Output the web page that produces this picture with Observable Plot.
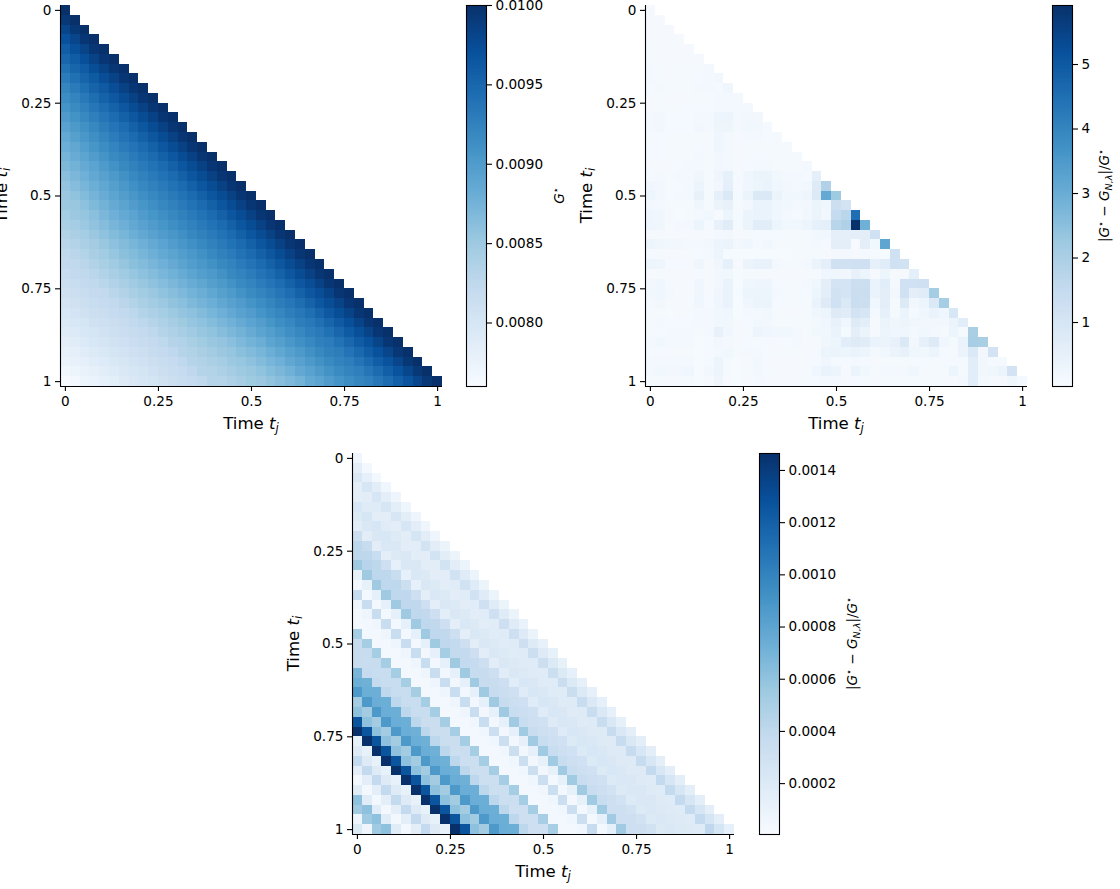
<!DOCTYPE html>
<html>
<head>
<meta charset="utf-8">
<script src="https://cdn.jsdelivr.net/npm/d3@7"></script>
<script src="https://cdn.jsdelivr.net/npm/@observablehq/plot@0.6"></script>
<style>
html,body{margin:0;padding:0;background:#fff;}
#page{position:relative;width:1120px;height:889px;overflow:hidden;background:#fff;}
svg{overflow:visible;}
</style>
</head>
<body>
<div id="page"></div>
<script>
// Time grid
const gridSize = 39;
const timeTicks = [0, 0.25, 0.5, 0.75, 1];

// Panel 1: G* in units of 1e-5, one list per sub-diagonal (d = i - j), from j = 0
const gStarDiagonals = [
[1000,1000,1000,1000,1000,1000,1000,1000,1000,1000,1000,1000,1000,1000,1000,1000,1000,1000,1000,1000,1000,1000,1000,1000,1000,1000,1000,1000,1000,1000,1000,1000,1000,1000,1000,1000,1000,1000,1000],
[993,994,995,995,995,995,995,995,995,995,995,995,995,995,995,995,995,995,995,995,995,995,995,995,995,995,995,995,995,995,995,995,995,995,994,994,993,993],
[980,981,982,983,983,983,984,984,984,984,984,984,984,984,984,984,984,984,984,984,984,984,984,984,984,984,984,983,983,983,983,982,982,981,981,980,980],
[970,971,972,973,974,974,975,975,975,975,975,975,975,975,975,975,975,975,975,975,975,975,975,975,975,974,974,973,973,972,971,970,970,969,969,968],
[958,959,960,961,962,963,964,964,964,964,964,964,965,965,965,965,965,965,965,965,965,964,964,964,964,964,964,963,962,961,960,959,958,957,956],
[950,951,952,953,954,954,955,955,955,955,955,955,955,955,955,955,955,955,955,955,955,955,954,954,954,953,952,951,950,949,948,947,946,945],
[940,941,942,943,944,945,945,946,946,946,946,946,946,946,946,946,946,946,946,946,946,945,944,944,943,942,941,940,939,938,937,936,935],
[930,931,933,935,936,937,938,938,939,939,939,939,939,939,939,939,939,939,939,938,938,937,936,935,934,933,932,930,929,928,927,926],
[922,923,925,927,929,930,931,931,932,932,932,932,932,932,932,932,932,931,931,930,930,929,929,928,928,927,926,925,924,923,922],
[915,916,918,920,922,923,924,925,925,925,925,925,925,925,925,925,925,924,924,923,923,922,921,920,920,919,918,917,916,915],
[908,909,911,913,915,917,918,919,920,920,920,920,920,920,919,919,918,918,917,916,915,915,914,913,912,911,910,909,908],
[900,902,904,906,908,910,911,912,913,913,913,913,912,912,911,911,910,910,909,908,907,906,905,904,903,902,901,900],
[893,895,897,899,901,903,904,905,906,906,906,905,905,904,904,903,902,901,900,899,898,897,896,895,894,893,892],
[885,887,890,892,894,896,898,899,900,900,900,899,898,898,897,896,895,894,893,892,891,890,888,887,886,885],
[880,882,884,886,888,890,891,892,893,893,892,891,891,890,889,888,887,886,884,883,881,880,878,877,875],
[874,876,878,880,882,884,885,886,886,885,885,884,883,882,881,880,879,877,876,875,873,872,870,869],
[868,870,872,874,876,878,879,880,879,879,878,877,876,875,874,873,871,870,869,867,866,865,863],
[862,864,866,868,870,872,873,873,873,872,871,870,869,868,866,865,864,862,861,860,858,857],
[856,858,860,862,864,866,866,866,866,865,864,863,862,860,859,858,856,855,854,853,852],
[852,853,855,857,859,860,861,861,860,859,858,857,856,855,854,853,852,851,850,849],
[851,851,851,852,853,854,855,854,853,852,851,850,849,848,847,846,845,844,844],
[845,845,845,846,847,848,848,848,847,846,845,844,843,842,841,840,839,838],
[840,840,840,841,842,842,842,841,840,839,838,837,836,835,835,834,833],
[834,834,834,835,836,836,835,834,834,833,833,832,832,832,832,832],
[828,828,828,829,829,829,828,827,827,826,826,825,825,825,824],
[824,824,824,824,823,823,822,822,821,821,821,820,820,820],
[822,822,821,821,820,820,819,819,818,818,817,817,816],
[817,817,816,816,815,815,814,814,813,813,812,812],
[813,813,812,812,811,811,810,810,809,809,808],
[808,808,807,807,806,806,805,805,804,804],
[803,803,802,802,801,801,800,800,799],
[798,798,797,797,796,796,795,795],
[794,793,793,792,791,791,790],
[789,788,787,787,786,785],
[784,783,782,781,780],
[779,778,777,776],
[774,773,772],
[768,766],
[760]
];

// Panel 2: relative error in units of 0.01, one list per row i, from j = 0
const relErrorRows = [
[8],
[8,8],
[8,8,8],
[8,8,8,8],
[10,8,8,8,8],
[10,8,8,8,8,8],
[14,10,8,10,10,10,14],
[14,10,8,10,10,12,14,20],
[12,14,10,10,10,14,14,12,24],
[8,10,8,8,10,10,10,14,14,14],
[8,10,10,10,12,12,12,14,16,16,16],
[16,18,12,12,12,14,14,30,30,14,18,18],
[14,18,12,12,12,18,14,26,26,14,20,20,12],
[10,12,10,10,10,10,10,22,16,8,14,14,12,10],
[12,12,10,10,10,12,10,22,14,8,10,10,10,10,10],
[12,12,10,10,10,14,10,18,14,8,10,12,10,10,10,10],
[8,8,8,12,14,14,10,18,14,8,12,14,14,10,10,10,14],
[12,16,10,14,14,24,10,28,50,10,22,36,36,20,14,14,12,55],
[22,18,10,12,14,30,10,18,55,8,22,30,40,22,18,16,20,75,190],
[30,18,12,14,14,45,10,50,85,10,35,85,85,35,20,20,28,80,310,220],
[18,16,10,10,10,25,10,35,45,10,18,40,40,22,20,14,18,35,25,130,110],
[28,24,8,6,10,16,20,5,30,12,35,40,40,22,16,12,20,35,18,150,170,450],
[28,24,8,14,14,30,12,45,70,10,35,65,65,30,20,20,30,50,55,175,190,590,290],
[8,8,8,8,8,8,8,16,18,8,10,12,12,12,10,10,10,20,20,55,55,60,60,120],
[30,25,20,18,15,15,18,30,35,18,22,12,20,10,10,10,10,16,12,60,60,5,60,20,320],
[12,10,8,8,10,12,14,32,6,6,6,6,6,6,6,10,10,10,8,14,14,8,12,10,6,120],
[30,28,12,12,8,24,8,25,50,8,35,42,42,14,10,10,14,35,55,120,120,125,125,50,70,120,115],
[8,10,8,8,8,12,8,20,20,6,10,10,8,8,8,8,8,12,22,24,18,45,30,8,30,8,8,55],
[18,22,12,8,8,22,8,20,40,6,25,28,28,12,10,10,15,25,60,105,105,130,130,38,65,10,120,120,125],
[20,22,14,8,8,24,8,22,40,6,30,32,30,14,10,10,12,30,60,115,105,135,135,38,60,18,120,60,70,210],
[14,18,8,8,10,22,12,22,40,6,22,35,35,12,10,10,10,40,75,120,85,135,130,22,60,10,80,18,32,85,210],
[10,10,6,8,10,14,14,20,22,6,14,16,20,10,8,8,10,25,32,75,70,110,100,16,50,10,35,12,22,40,22,95],
[10,16,12,12,12,14,14,20,20,8,12,20,18,10,10,10,10,15,22,45,22,75,60,8,35,25,30,25,18,18,18,35,65],
[10,12,16,16,16,10,14,45,22,8,10,30,22,20,20,16,10,20,20,40,10,60,35,8,32,22,25,15,20,15,10,30,10,200],
[16,20,16,16,16,6,12,18,14,8,12,10,12,8,12,16,8,8,25,30,65,75,70,40,35,45,85,18,50,75,22,10,40,205,200],
[10,12,8,8,10,6,12,16,20,10,14,14,10,10,10,10,8,12,30,35,30,40,30,15,20,35,45,25,20,30,12,10,35,85,18,110],
[14,14,14,14,14,6,12,30,10,6,8,20,8,8,8,8,8,12,22,10,12,14,12,8,10,10,10,12,12,10,12,10,12,65,18,12,10],
[16,20,18,18,22,6,18,30,10,6,10,18,10,8,8,8,10,22,40,30,8,35,20,10,15,15,14,25,10,10,10,30,10,65,20,25,35,110],
[10,10,8,8,10,6,8,28,8,6,8,14,8,8,8,8,10,12,15,15,8,12,10,8,10,10,10,10,10,10,10,8,14,65,15,10,8,25,12]
];

// Panel 3: relative error in units of 1e-5, one list per sub-diagonal (d = i - j), from j = 0
const lambdaErrorDiagonals = [
[6,4,4,6,7,7,7,7,7,9,9,9,9,9,9,9,9,10,9,12,12,12,13,13,13,13,13,13,15,15,15,15,15,15,15,15,15,15,13],
[15,13,16,15,15,16,16,16,16,16,16,18,18,18,18,18,18,19,19,19,20,20,20,20,21,21,22,22,22,23,23,23,24,24,25,25,26,26],
[22,25,25,25,25,25,26,28,28,28,29,29,29,31,31,32,32,32,33,33,33,34,34,35,35,35,36,36,36,36,38,38,38,38,38,38,40],
[15,16,18,16,16,16,16,16,16,16,17,17,17,17,17,18,18,18,18,18,18,18,19,19,19,19,19,19,19,19,18,18,18,18,18,18],
[15,18,16,18,19,16,16,16,16,16,16,16,16,16,17,17,17,18,18,18,18,18,18,18,19,19,19,19,19,19,19,19,19,19,19],
[23,25,25,23,22,22,22,20,20,20,20,20,20,20,20,20,20,20,22,22,22,22,22,22,22,22,22,22,22,22,22,20,20,20],
[20,22,22,22,20,22,22,22,22,22,22,22,22,22,22,22,22,23,23,23,23,23,23,23,23,23,23,22,22,22,22,22,22],
[16,16,16,15,13,13,13,15,15,15,15,15,16,16,16,17,17,18,18,18,19,19,20,20,20,20,20,20,20,20,20,20],
[33,36,35,32,35,33,32,32,32,32,32,32,32,32,32,32,31,31,31,30,30,30,30,30,30,30,29,29,29,29,29],
[41,41,41,41,41,40,40,39,39,39,38,38,37,36,35,34,33,33,32,32,32,32,32,32,32,32,32,32,32,32],
[41,44,41,40,40,40,40,40,40,40,38,38,36,36,36,36,35,35,35,35,35,35,35,35,35,35,32,32,32],
[55,55,55,55,55,55,55,55,55,52,55,55,55,55,55,55,54,54,54,54,54,54,54,54,54,54,54,54],
[12,12,13,13,13,13,13,13,13,13,13,13,13,13,13,13,13,13,13,12,12,12,12,12,12,13,13],
[4,4,4,4,4,4,4,5,5,5,5,5,5,5,5,5,5,5,5,5,4,4,4,4,4,4],
[36,35,35,35,35,35,35,35,35,35,35,35,35,35,33,33,33,33,33,33,33,33,33,33,36],
[7,7,7,7,7,7,7,7,7,7,7,7,6,6,6,6,6,6,6,6,6,6,6,6],
[4,4,4,4,4,4,4,4,4,4,4,4,4,4,4,4,4,4,4,4,4,4,4],
[4,4,4,4,4,4,4,4,4,4,4,4,4,4,4,4,4,4,4,4,4,4],
[52,52,52,52,52,52,52,52,52,52,52,52,52,52,52,52,52,52,52,51,51],
[36,36,36,35,35,35,35,35,34,34,34,34,33,33,33,33,33,32,32,32],
[36,35,35,35,35,35,35,34,34,34,33,33,33,33,33,33,32,32,32],
[36,37,38,40,41,41,41,41,41,41,41,41,41,41,41,41,41,41],
[69,72,73,73,73,73,72,72,72,72,72,72,73,73,73,73,73],
[73,73,74,74,74,74,74,74,74,74,74,74,74,74,74,74],
[87,87,87,87,87,87,87,87,87,87,87,87,87,87,87],
[53,53,53,53,53,53,53,53,53,53,53,53,53,53],
[61,61,61,61,61,61,61,61,61,61,61,61,61],
[126,126,126,126,126,126,126,126,126,126,126,126],
[146,146,146,146,146,146,146,146,146,146,146],
[12,12,12,12,12,12,12,12,12,12],
[19,19,19,19,19,19,19,19,19],
[38,38,38,38,38,38,38,38],
[15,15,15,15,15,15,15],
[4,4,4,4,4,4],
[17,17,17,17,17],
[61,61,61,61],
[55,55,55],
[7,7],
[20]
];

// Colour bar extents and tick values
const gStarRange = [0.0076, 0.0100];
const gStarTicks = [0.0080, 0.0085, 0.0090, 0.0095, 0.0100];
const relErrorRange = [0.008, 5.915];
const relErrorTicks = [1, 2, 3, 4, 5];
const lambdaErrorRange = [0.000005, 0.001465];
const lambdaErrorTicks = [0.0002, 0.0004, 0.0006, 0.0008, 0.0010, 0.0012, 0.0014];

const blues = ["#f7fbff","#deebf7","#c6dbef","#9ecae1","#6baed6","#4292c6","#2171b5","#08519c","#08306b"];

// Table builders
const step = 1 / (gridSize - 1);
const fromDiagonals = (lists, unit) => lists.flatMap((list, d) =>
  list.map((v, k) => ({ t: k * step, s: (k + d) * step, v: v * unit })));
const fromRows = (rows, unit) => rows.flatMap((row, i) =>
  row.map((v, j) => ({ t: j * step, s: i * step, v: v * unit })));

const page = document.getElementById("page");
const fontFamily = "'DejaVu Sans', sans-serif";
const TICK = 13.6, LABEL = 16.6;
const baseStyle = { fontFamily, fontSize: TICK + "px", color: "#000", background: "transparent", maxWidth: "none", overflow: "visible" };

function place(svg, left, top) {
  svg.style.position = "absolute";
  svg.style.left = left + "px";
  svg.style.top = top + "px";
  page.appendChild(svg);
}

// Mixed-style label: parts are [text, kind]
function richLabel(svg, x, y, rotate, size, parts) {
  const text = d3.select(svg).append("text")
    .attr("text-anchor", "middle")
    .attr("font-family", fontFamily)
    .attr("font-size", size)
    .attr("fill", "#000")
    .attr("transform", `translate(${x},${y})` + (rotate ? " rotate(-90)" : ""));
  let shift = 0;
  for (const [str, kind] of parts) {
    const wanted = kind === "sup" ? -size * 0.36 : kind === "sub" ? size * 0.2 : 0;
    const sp = text.append("tspan").text(str).attr("dy", wanted - shift);
    shift = wanted;
    if (kind === "i" || kind === "sub") sp.attr("font-style", "italic");
    if (kind === "sup" || kind === "sub") sp.attr("font-size", size * 0.7);
  }
}

const timeLabel = (sym) => [["Time ", ""], ["t", "i"], [sym, "sub"]];
const G = ["G", "i"], STAR = ["\u22C6", "sup"];
const errLabel = [["|", ""], G, STAR, [" \u2212 ", ""], G, ["N,\u03BB", "sub"], ["|/", ""], G, STAR];
const gLabel = [G, STAR];

function panel({ cells, range, left, top, barLeft, barTicks, barFormat, barLabel, barLabelOffset }) {
  const margin = 60, side = 382, h = step / 2;
  const lo = -h, hi = 1 + h;
  const color = { type: "linear", domain: range, clamp: true, interpolate: d3.piecewise(d3.interpolateRgb, blues) };
  const main = Plot.plot({
    width: margin + side + 10, height: 5 + 381 + 60,
    marginLeft: margin, marginRight: 10, marginTop: 5, marginBottom: 60,
    style: baseStyle,
    x: { domain: [lo, hi] },
    y: { domain: [lo, hi], reverse: true },
    color,
    marks: [
      Plot.rect(cells, { x1: d => d.t - h, x2: d => d.t + h, y1: d => d.s - h, y2: d => d.s + h, fill: "v", shapeRendering: "crispEdges" }),
      Plot.ruleX([lo], { stroke: "#000", strokeWidth: 1.1 }),
      Plot.ruleY([hi], { stroke: "#000", strokeWidth: 1.1 }),
      Plot.axisX({ anchor: "bottom", ticks: timeTicks, tickFormat: String, tickSize: 5, tickPadding: 5, label: null, strokeWidth: 1.1, fontSize: TICK }),
      Plot.axisY({ anchor: "left", ticks: timeTicks, tickFormat: String, tickSize: 5, tickPadding: 4, label: null, strokeWidth: 1.1, fontSize: TICK })
    ]
  });
  place(main, left - margin, top - 5);
  richLabel(main, margin + side / 2, 5 + 381 + 43, false, LABEL, timeLabel("j"));
  richLabel(main, margin - 53, 5 + 381 / 2 , true, LABEL, timeLabel("i"));

  const slices = d3.range(256).map(k => ({
    a: range[0] + (range[1] - range[0]) * k / 256,
    b: range[0] + (range[1] - range[0]) * (k + 1) / 256
  }));
  const bar = Plot.plot({
    width: 5 + 20 + 100, height: 5 + 381 + 5,
    marginLeft: 5, marginRight: 100, marginTop: 5, marginBottom: 5,
    style: baseStyle,
    x: { domain: [0, 1], axis: null },
    y: { domain: range },
    color,
    marks: [
      Plot.rect(slices, { x1: 0, x2: 1, y1: "a", y2: "b", fill: d => (d.a + d.b) / 2, shapeRendering: "crispEdges" }),
      Plot.frame({ stroke: "#000", strokeWidth: 1.1 }),
      Plot.axisY({ anchor: "right", ticks: barTicks, tickFormat: barFormat, tickSize: 5, tickPadding: 4, label: null, strokeWidth: 1.1, fontSize: TICK })
    ]
  });
  place(bar, barLeft - 5, top - 5);
  richLabel(bar, 25 + barLabelOffset, 5 + 381 / 2, true, 13.6, barLabel);
}

panel({
  cells: fromDiagonals(gStarDiagonals, 1e-5), range: gStarRange,
  left: 59.5, top: 5, barLeft: 466,
  barTicks: gStarTicks, barFormat: d3.format(".4f"), barLabel: gLabel, barLabelOffset: 78
});
panel({
  cells: fromRows(relErrorRows, 0.01), range: relErrorRange,
  left: 644.5, top: 5, barLeft: 1052,
  barTicks: relErrorTicks, barFormat: d3.format("d"), barLabel: errLabel, barLabelOffset: 37
});
panel({
  cells: fromDiagonals(lambdaErrorDiagonals, 1e-5), range: lambdaErrorRange,
  left: 352, top: 453, barLeft: 759,
  barTicks: lambdaErrorTicks, barFormat: d3.format(".4f"), barLabel: errLabel, barLabelOffset: 78
});
</script>
</body>
</html>
